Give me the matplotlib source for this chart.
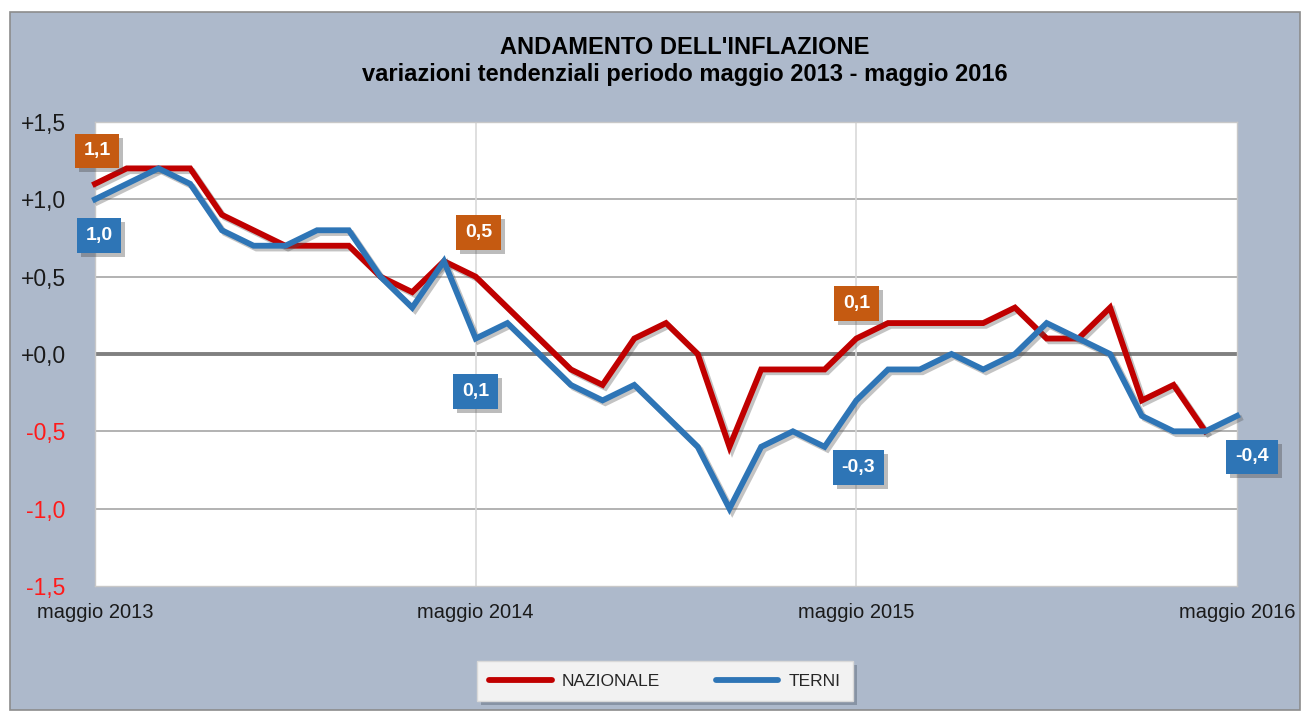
import matplotlib
matplotlib.use("Agg")
import matplotlib.pyplot as plt
import matplotlib.patheffects as pe
from matplotlib.patches import Rectangle

# dati: variazioni tendenziali mensili, maggio 2013 - maggio 2016
mesi = list(range(37))
nazionale = [1.1, 1.2, 1.2, 1.2, 0.9, 0.8, 0.7, 0.7, 0.7, 0.5, 0.4, 0.6,
             0.5, 0.3, 0.1, -0.1, -0.2, 0.1, 0.2, 0.0, -0.6, -0.1, -0.1, -0.1,
             0.1, 0.2, 0.2, 0.2, 0.2, 0.3, 0.1, 0.1, 0.3, -0.3, -0.2, -0.5]
terni = [1.0, 1.1, 1.2, 1.1, 0.8, 0.7, 0.7, 0.8, 0.8, 0.5, 0.3, 0.6,
         0.1, 0.2, 0.0, -0.2, -0.3, -0.2, -0.4, -0.6, -1.0, -0.6, -0.5, -0.6,
         -0.3, -0.1, -0.1, 0.0, -0.1, 0.0, 0.2, 0.1, 0.0, -0.4, -0.5, -0.5,
         -0.4]
xtick_pos = [0, 12, 24, 36]
xtick_labels = ['maggio 2013', 'maggio 2014', 'maggio 2015', 'maggio 2016']
ytick_pos = [1.5, 1.0, 0.5, 0.0, -0.5, -1.0, -1.5]
ytick_labels = ['+1,5', '+1,0', '+0,5', '+0,0', '-0,5', '-1,0', '-1,5']

# etichette: (indice, offset in pixel)
etichette_naz = [(0, (2, 33)), (12, (3, 44)), (24, (0, 35))]
etichette_terni = [(0, (4, -36)), (12, (0, -53)), (24, (2, -67)), (36, (15, -41))]

ROSSO = '#C00000'
BLU = '#2E75B6'
ARANCIO = '#C55A11'
SFONDO = '#ADB9CB'

fig = plt.figure(figsize=(13.04, 7.14), dpi=100, facecolor='white')
fig.patches.append(Rectangle((10 / 1304, 4 / 714), 1290 / 1304, 698 / 714,
                             transform=fig.transFigure, facecolor=SFONDO,
                             edgecolor='#8C8C8C', linewidth=1.2, zorder=0))

ax = fig.add_axes([95 / 1304, 1 - 586 / 714, 1142 / 1304, 464 / 714])
ax.set_zorder(2)
ax.set_facecolor('white')
ax.set_xlim(0, 36)
ax.set_ylim(-1.5, 1.5)

for y in [1.0, 0.5, -0.5, -1.0]:
    ax.axhline(y, color='#A6A6A6', lw=1.2, zorder=1)
ax.axhline(0, color='#808080', lw=2.8, zorder=1)
for x in [12, 24]:
    ax.axvline(x, color='#D9D9D9', lw=1.2, zorder=1)

ombra = [pe.SimpleLineShadow(offset=(2, -2), shadow_color='#555555', alpha=0.35),
         pe.Normal()]
ln_n, = ax.plot(mesi[:len(nazionale)], nazionale, color=ROSSO, lw=4.2,
                solid_joinstyle='miter', path_effects=ombra, zorder=3,
                label='NAZIONALE', clip_on=False)
ln_t, = ax.plot(mesi, terni, color=BLU, lw=4.2, solid_joinstyle='miter',
                path_effects=ombra, zorder=4, label='TERNI', clip_on=False)

etichette = []

def etichetta(i, valori, off, colore):
    testo = f'{valori[i]:.1f}'.replace('.', ',')
    a = ax.annotate(testo, (i, valori[i]), xytext=off, textcoords='offset pixels',
                    ha='center', va='center', color='white', fontsize=14,
                    fontweight='bold', family='Liberation Sans', zorder=6,
                    annotation_clip=False,
                    bbox=dict(boxstyle='square,pad=0.45', fc=colore, ec='none'))
    etichette.append(a)

for i, off in etichette_naz:
    etichetta(i, nazionale, off, ARANCIO)
for i, off in etichette_terni:
    etichetta(i, terni, off, BLU)

ax.set_xticks(xtick_pos)
ax.set_xticklabels(xtick_labels, fontsize=14.5, family='Liberation Sans', color='#1A1A1A')
ax.set_yticks(ytick_pos)
ax.set_yticklabels(ytick_labels, fontsize=16.5, family='Liberation Sans')
for lab, v in zip(ax.get_yticklabels(), ytick_pos):
    lab.set_color('#FF1A1A' if v < 0 else '#1A1A1A')
ax.tick_params(axis='both', length=0)
ax.tick_params(axis='y', pad=21)
ax.tick_params(axis='x', pad=12)
for s in ax.spines.values():
    s.set_color('#C8C8C8')
    s.set_linewidth(1)

fig.text(685 / 1304, 1 - 48 / 714, "ANDAMENTO DELL'INFLAZIONE", ha='center',
         va='center', fontsize=17, fontweight='bold', family='Liberation Sans')
fig.text(685 / 1304, 1 - 75 / 714,
         'variazioni tendenziali periodo maggio 2013 - maggio 2016',
         ha='center', va='center', fontsize=17, fontweight='bold',
         family='Liberation Sans')

# legenda
leg = fig.legend(handles=[ln_n, ln_t], loc='center', ncol=2,
                 bbox_to_anchor=(665 / 1304, 1 - 681 / 714),
                 frameon=True, fancybox=False,
                 prop={'family': 'Liberation Sans', 'size': 12.5},
                 handlelength=3.6, handletextpad=0.6, columnspacing=3.2,
                 borderpad=0.7, borderaxespad=0)
leg.set_zorder(5)
leg.get_frame().set_facecolor('#F2F2F2')
leg.get_frame().set_edgecolor('#D9D9D9')
leg.get_frame().set_alpha(1)
for h in leg.legend_handles:
    h.set_path_effects([])
    h.set_solid_capstyle('round')
for t in leg.get_texts():
    t.set_color('#262626')

# ombre di legenda e riquadri
fig.canvas.draw()
bb = leg.get_window_extent().transformed(fig.transFigure.inverted())
fig.patches.append(Rectangle((bb.x0 + 4 / 1304, bb.y0 - 4 / 714), bb.width, bb.height,
                             transform=fig.transFigure, facecolor='#6E7A8A',
                             alpha=0.6, edgecolor='none', zorder=1))
inv = ax.transAxes.inverted()
for a in etichette:
    eb = a.get_bbox_patch().get_window_extent()
    (x0, y0), (x1, y1) = inv.transform([(eb.x0 + 4, eb.y0 - 4), (eb.x1 + 4, eb.y1 - 4)])
    ax.add_patch(Rectangle((x0, y0), x1 - x0, y1 - y0, transform=ax.transAxes,
                           facecolor='#404040', alpha=0.35, edgecolor='none',
                           zorder=5, clip_on=False))

fig.savefig('out.png', dpi=100, facecolor=fig.get_facecolor())
